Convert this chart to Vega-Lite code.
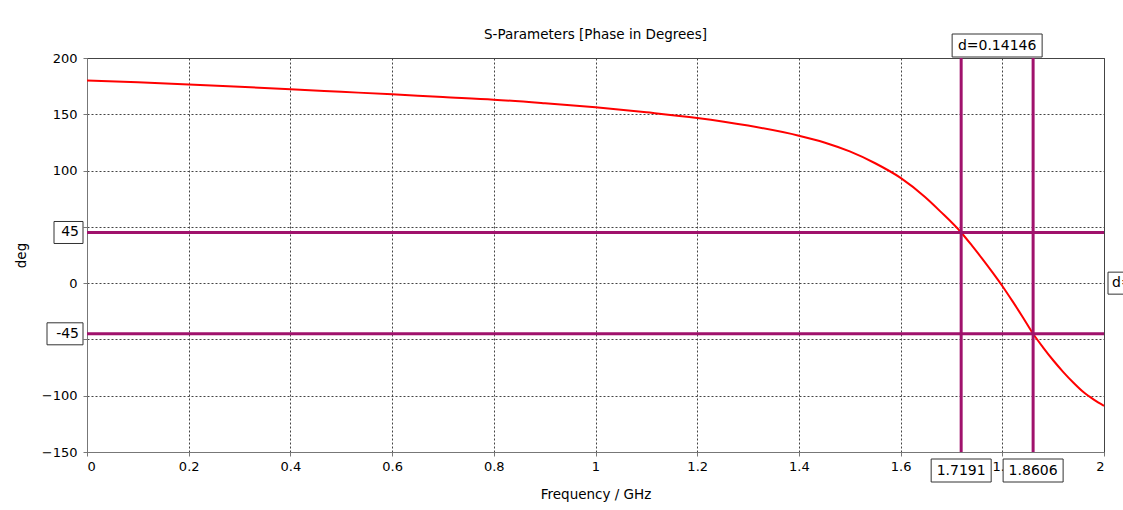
{
  "$schema": "https://vega.github.io/schema/vega-lite/v6.json",
  "width": 1017,
  "height": 394,
  "autosize": {"type": "none"},
  "padding": {"left": 87, "top": 58, "right": 19, "bottom": 58},
  "background": "white",
  "title": {"text": "S-Parameters [Phase in Degrees]", "fontSize": 13.5, "fontWeight": "normal", "font": "DejaVu Sans", "color": "black", "offset": -8},
  "config": {
    "font": "DejaVu Sans",
    "view": {"stroke": "#444", "strokeWidth": 1},
    "axis": {
      "labelFontSize": 13, "labelColor": "black", "labelFont": "DejaVu Sans",
      "titleFontSize": 13.5, "titleFontWeight": "normal", "titleColor": "black", "titleFont": "DejaVu Sans",
      "domainColor": "#777", "tickColor": "#777", "tickSize": 4,
      "grid": true, "gridColor": "#444", "gridDash": [2, 2], "gridOpacity": 1, "gridWidth": 1
    }
  },
  "datasets": {
    "curve": [
      {"f": 0, "deg": 180}, {"f": 0.1, "deg": 178.5}, {"f": 0.2, "deg": 176.5}, {"f": 0.3, "deg": 174.5},
      {"f": 0.4, "deg": 172.3}, {"f": 0.5, "deg": 170}, {"f": 0.6, "deg": 167.7}, {"f": 0.7, "deg": 165.3},
      {"f": 0.8, "deg": 163}, {"f": 0.9, "deg": 159.8}, {"f": 1.0, "deg": 156.2}, {"f": 1.1, "deg": 151.8},
      {"f": 1.2, "deg": 146.8}, {"f": 1.3, "deg": 140}, {"f": 1.4, "deg": 131}, {"f": 1.45, "deg": 125},
      {"f": 1.5, "deg": 117}, {"f": 1.55, "deg": 106.5}, {"f": 1.6, "deg": 93.5}, {"f": 1.648, "deg": 76.5},
      {"f": 1.6775, "deg": 64}, {"f": 1.7191, "deg": 45}, {"f": 1.74, "deg": 33.5}, {"f": 1.76, "deg": 22},
      {"f": 1.78, "deg": 10}, {"f": 1.8, "deg": -2.5}, {"f": 1.82, "deg": -16}, {"f": 1.84, "deg": -30},
      {"f": 1.8606, "deg": -45}, {"f": 1.88, "deg": -57}, {"f": 1.9, "deg": -68.5}, {"f": 1.92, "deg": -79},
      {"f": 1.94, "deg": -88.5}, {"f": 1.96, "deg": -97}, {"f": 1.98, "deg": -103.5}, {"f": 2.0, "deg": -109}
    ],
    "hmarkers": [{"value": 45, "label": "45"}, {"value": -45, "label": "-45"}],
    "vmarkers": [{"value": 1.7191, "label": "1.7191"}, {"value": 1.8606, "label": "1.8606"}],
    "dfreq": [{"f": 1.78985, "label": "d=0.14146"}],
    "dphase": [{"deg": 0, "label": "d=90"}]
  },
  "encoding": {},
  "layer": [
    {
      "data": {"name": "curve"},
      "mark": {"type": "line", "color": "#ff0000", "strokeWidth": 2, "interpolate": "monotone"},
      "encoding": {
        "x": {"field": "f", "type": "quantitative", "scale": {"domain": [0, 2], "nice": false, "zero": false},
              "axis": {"title": "Frequency / GHz", "values": [0, 0.2, 0.4, 0.6, 0.8, 1, 1.2, 1.4, 1.6, 1.8, 2], "format": "~g", "titlePadding": 14, "labelPadding": 4}},
        "y": {"field": "deg", "type": "quantitative", "scale": {"domain": [-150, 200], "nice": false, "zero": false},
              "axis": {"title": "deg", "values": [-150, -100, -50, 0, 50, 100, 150, 200], "format": "d", "titlePadding": 13, "labelPadding": 6}}
      }
    },
    {
      "data": {"name": "hmarkers"},
      "mark": {"type": "rule", "color": "#a0126c", "strokeWidth": 3},
      "encoding": {"y": {"field": "value", "type": "quantitative"}}
    },
    {
      "data": {"name": "vmarkers"},
      "mark": {"type": "rule", "color": "#a0126c", "strokeWidth": 3},
      "encoding": {"x": {"field": "value", "type": "quantitative"}}
    },
    {
      "data": {"name": "hmarkers"},
      "transform": [{"filter": "datum.label == '45'"}],
      "mark": {"type": "rect", "fill": "white", "stroke": "#333", "strokeWidth": 1, "xOffset": -33, "x2Offset": -4, "yOffset": -11, "y2Offset": 11, "clip": false},
      "encoding": {"x": {"datum": 0}, "x2": {"datum": 0}, "y": {"field": "value", "type": "quantitative"}, "y2": {"field": "value"}}
    },
    {
      "data": {"name": "hmarkers"},
      "transform": [{"filter": "datum.label == '-45'"}],
      "mark": {"type": "rect", "fill": "white", "stroke": "#333", "strokeWidth": 1, "xOffset": -40, "x2Offset": -4, "yOffset": -11, "y2Offset": 11, "clip": false},
      "encoding": {"x": {"datum": 0}, "x2": {"datum": 0}, "y": {"field": "value", "type": "quantitative"}, "y2": {"field": "value"}}
    },
    {
      "data": {"name": "hmarkers"},
      "mark": {"type": "text", "align": "right", "baseline": "middle", "dx": -8, "fontSize": 14, "color": "black"},
      "encoding": {"x": {"datum": 0}, "y": {"field": "value", "type": "quantitative"}, "text": {"field": "label"}}
    },
    {
      "data": {"name": "vmarkers"},
      "mark": {"type": "rect", "fill": "white", "stroke": "#333", "strokeWidth": 1, "xOffset": -30, "x2Offset": 30, "yOffset": 7, "y2Offset": 30},
      "encoding": {"x": {"field": "value", "type": "quantitative"}, "x2": {"field": "value"}, "y": {"datum": -150}, "y2": {"datum": -150}}
    },
    {
      "data": {"name": "vmarkers"},
      "mark": {"type": "text", "align": "center", "baseline": "middle", "dy": 19, "fontSize": 14, "color": "black"},
      "encoding": {"x": {"field": "value", "type": "quantitative"}, "y": {"datum": -150}, "text": {"field": "label"}}
    },
    {
      "data": {"name": "dfreq"},
      "mark": {"type": "rect", "fill": "white", "stroke": "#333", "strokeWidth": 1, "xOffset": -45, "x2Offset": 45, "yOffset": -24, "y2Offset": -1},
      "encoding": {"x": {"field": "f", "type": "quantitative"}, "x2": {"field": "f"}, "y": {"datum": 200}, "y2": {"datum": 200}}
    },
    {
      "data": {"name": "dfreq"},
      "mark": {"type": "text", "align": "center", "baseline": "middle", "dy": -12, "fontSize": 14, "color": "black"},
      "encoding": {"x": {"field": "f", "type": "quantitative"}, "y": {"datum": 200}, "text": {"field": "label"}}
    },
    {
      "data": {"name": "dphase"},
      "mark": {"type": "rect", "fill": "white", "stroke": "#333", "strokeWidth": 1, "xOffset": 4, "x2Offset": 60, "yOffset": -11, "y2Offset": 11},
      "encoding": {"x": {"datum": 2}, "x2": {"datum": 2}, "y": {"field": "deg", "type": "quantitative"}, "y2": {"field": "deg"}}
    },
    {
      "data": {"name": "dphase"},
      "mark": {"type": "text", "align": "left", "baseline": "middle", "dx": 8, "fontSize": 14, "color": "black"},
      "encoding": {"x": {"datum": 2}, "y": {"field": "deg", "type": "quantitative"}, "text": {"field": "label"}}
    }
  ]
}
